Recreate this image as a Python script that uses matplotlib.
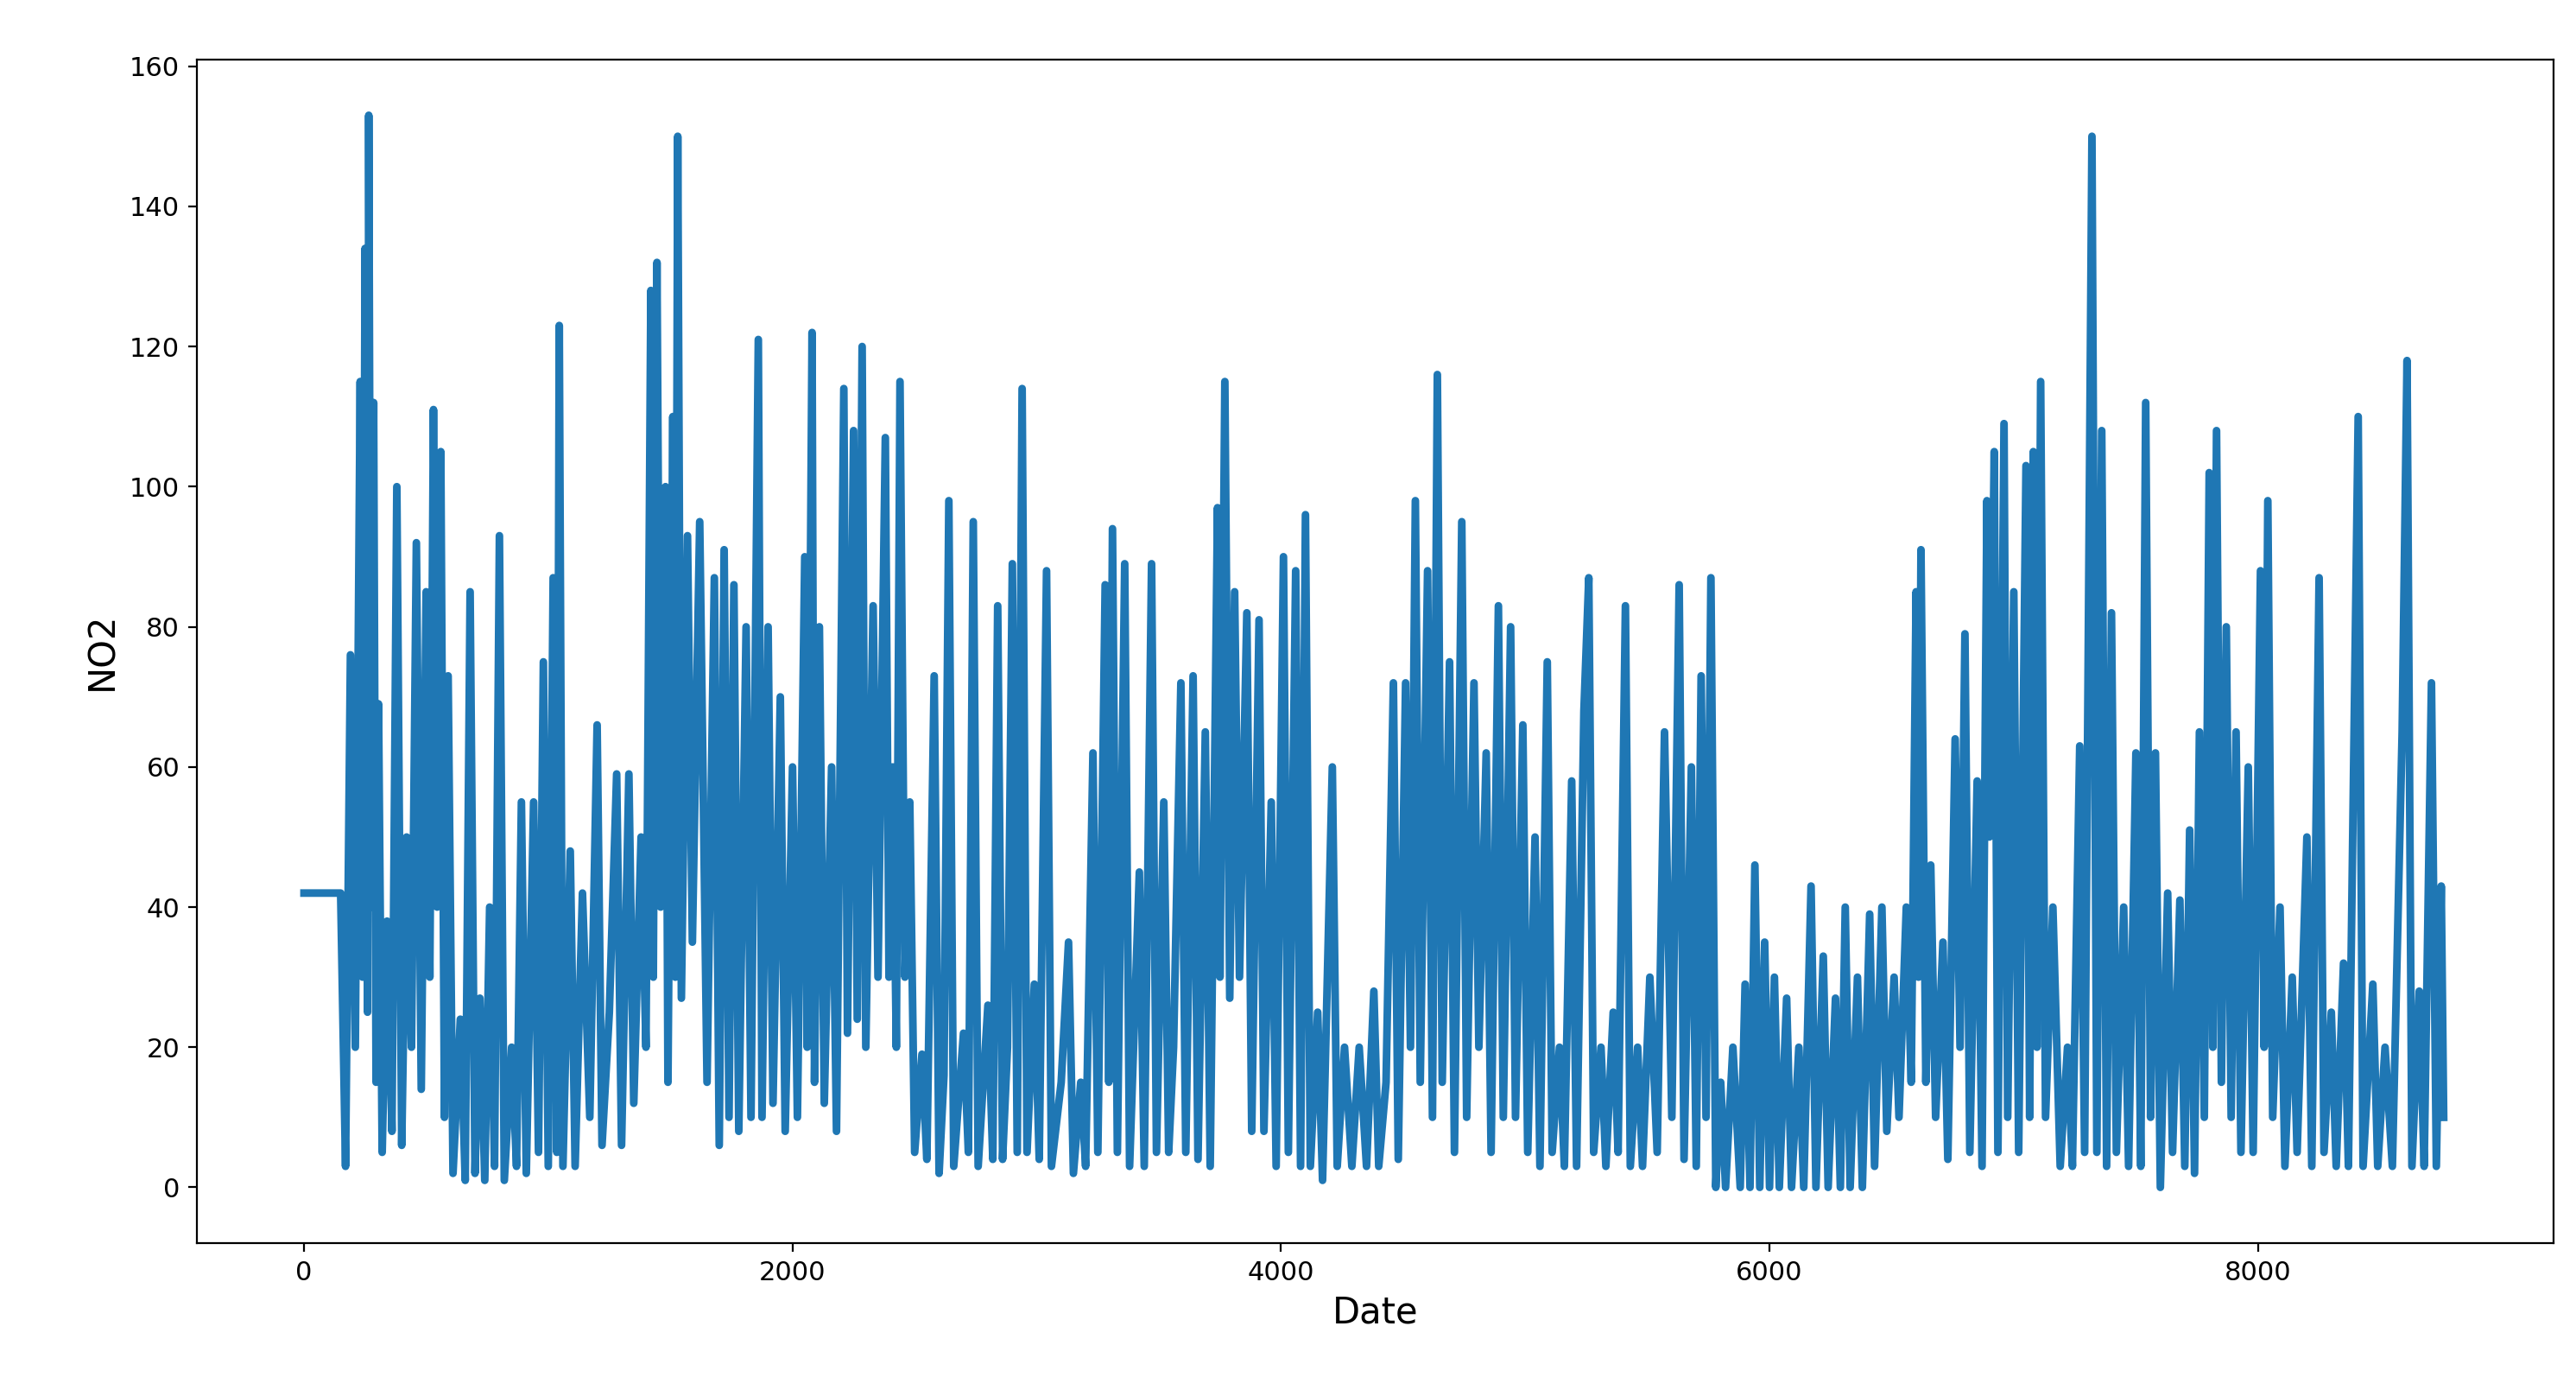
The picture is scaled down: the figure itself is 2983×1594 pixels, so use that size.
import matplotlib
matplotlib.use("Agg")
import matplotlib.pyplot as plt

pts = [(0,42),(150,42),(170,3),(190,76),(210,20),(230,115),(240,30),(250,134),(260,25),(265,153),(275,40),(285,112),(295,15),(305,69),(320,5),(340,38),(360,8),(380,100),(400,6),(420,50),(440,20),(460,92),(480,14),(500,85),(515,30),(530,111),(545,40),(560,105),(575,10),(590,73),(610,2),(640,24),(660,1),(680,85),(700,2),(720,27),(740,1),(760,40),(780,3),(800,93),(820,1),(850,20),(870,3),(890,55),(910,2),(940,55),(960,5),(980,75),(1000,3),(1020,87),(1035,5),(1045,123),(1060,3),(1090,48),(1110,3),(1140,42),(1170,10),(1200,66),(1220,6),(1250,25),(1280,59),(1300,6),(1330,59),(1350,12),(1380,50),(1400,20),(1420,128),(1430,30),(1445,132),(1460,40),(1480,100),(1490,15),(1510,110),(1520,30),(1530,150),(1545,27),(1570,93),(1590,35),(1620,95),(1650,15),(1680,87),(1700,6),(1720,91),(1740,10),(1760,86),(1780,8),(1810,80),(1830,10),(1860,121),(1875,10),(1900,80),(1920,12),(1950,70),(1970,8),(2000,60),(2020,10),(2050,90),(2060,20),(2080,122),(2090,15),(2110,80),(2130,12),(2160,60),(2180,8),(2210,114),(2225,22),(2250,108),(2265,24),(2285,120),(2300,20),(2330,83),(2350,30),(2380,107),(2395,30),(2410,60),(2425,20),(2440,115),(2460,30),(2480,55),(2500,5),(2530,19),(2550,4),(2580,73),(2600,2),(2620,16),(2640,98),(2660,3),(2700,22),(2720,5),(2740,95),(2760,3),(2800,26),(2820,4),(2840,83),(2860,4),(2880,20),(2900,89),(2920,5),(2940,114),(2960,5),(2990,29),(3010,4),(3040,88),(3060,3),(3100,15),(3130,35),(3150,2),(3180,15),(3200,3),(3230,62),(3250,5),(3280,86),(3295,15),(3310,94),(3330,5),(3360,89),(3380,3),(3420,45),(3440,3),(3470,89),(3490,5),(3520,55),(3540,5),(3560,20),(3590,72),(3610,5),(3640,73),(3660,4),(3690,65),(3710,3),(3740,97),(3750,30),(3770,115),(3790,27),(3810,85),(3830,30),(3860,82),(3880,8),(3910,81),(3930,8),(3960,55),(3980,3),(4010,90),(4030,5),(4060,88),(4080,3),(4100,96),(4120,3),(4150,25),(4170,1),(4210,60),(4230,3),(4260,20),(4290,3),(4320,20),(4350,3),(4380,28),(4400,3),(4430,15),(4460,72),(4480,4),(4510,72),(4530,20),(4550,98),(4570,15),(4600,88),(4620,10),(4640,116),(4660,15),(4690,75),(4710,5),(4740,95),(4760,10),(4790,72),(4810,20),(4840,62),(4860,5),(4890,83),(4910,10),(4940,80),(4960,10),(4990,66),(5010,5),(5040,50),(5060,3),(5090,75),(5110,5),(5140,20),(5160,3),(5190,58),(5210,3),(5240,68),(5260,87),(5280,5),(5310,20),(5330,3),(5360,25),(5380,5),(5410,83),(5430,3),(5460,20),(5480,3),(5510,30),(5540,5),(5570,65),(5600,10),(5630,86),(5650,4),(5680,60),(5700,3),(5720,73),(5740,10),(5760,87),(5780,0),(5800,15),(5820,0),(5850,20),(5880,0),(5900,29),(5920,0),(5940,46),(5960,0),(5980,35),(6000,0),(6020,30),(6040,0),(6070,27),(6090,0),(6120,20),(6140,0),(6170,43),(6190,0),(6220,33),(6240,0),(6270,27),(6290,0),(6310,40),(6330,0),(6360,30),(6380,0),(6410,39),(6430,3),(6460,40),(6480,8),(6510,30),(6530,10),(6560,40),(6580,15),(6600,85),(6610,30),(6620,91),(6640,15),(6660,46),(6680,10),(6710,35),(6730,4),(6760,64),(6780,20),(6800,79),(6820,5),(6850,58),(6870,3),(6890,98),(6900,50),(6920,105),(6935,5),(6960,109),(6975,10),(7000,85),(7020,5),(7050,103),(7065,10),(7080,105),(7095,20),(7110,115),(7130,10),(7160,40),(7190,3),(7220,20),(7240,3),(7270,63),(7290,5),(7320,150),(7340,5),(7360,108),(7380,3),(7400,82),(7420,5),(7450,40),(7470,3),(7500,62),(7520,3),(7540,112),(7560,10),(7580,62),(7600,0),(7630,42),(7650,5),(7680,41),(7700,3),(7720,51),(7740,2),(7760,65),(7780,10),(7800,102),(7815,20),(7830,108),(7850,15),(7870,80),(7890,10),(7910,65),(7930,5),(7960,60),(7980,5),(8010,88),(8025,20),(8040,98),(8060,10),(8090,40),(8110,3),(8140,30),(8160,5),(8200,50),(8220,3),(8250,87),(8270,5),(8300,25),(8320,3),(8350,32),(8370,3),(8410,110),(8430,3),(8470,29),(8490,3),(8520,20),(8550,3),(8590,65),(8610,118),(8630,3),(8660,28),(8680,3),(8710,72),(8730,3),(8750,43),(8760,10)]
date = [p[0] for p in pts]
no2 = [p[1] for p in pts]

fig = plt.figure(figsize=(14.915, 7.97), dpi=200)
ax = fig.add_axes([0.0763, 0.097, 0.915, 0.86])
ax.plot(date, no2, color="#1f77b4", linewidth=3.2)
ax.set_xlim(-440, 9210)
ax.set_ylim(-8, 161)
ax.set_xlabel("Date", fontsize=15)
ax.set_ylabel("NO2", fontsize=15)
ax.tick_params(labelsize=11)
fig.savefig("out.png", dpi=200)
